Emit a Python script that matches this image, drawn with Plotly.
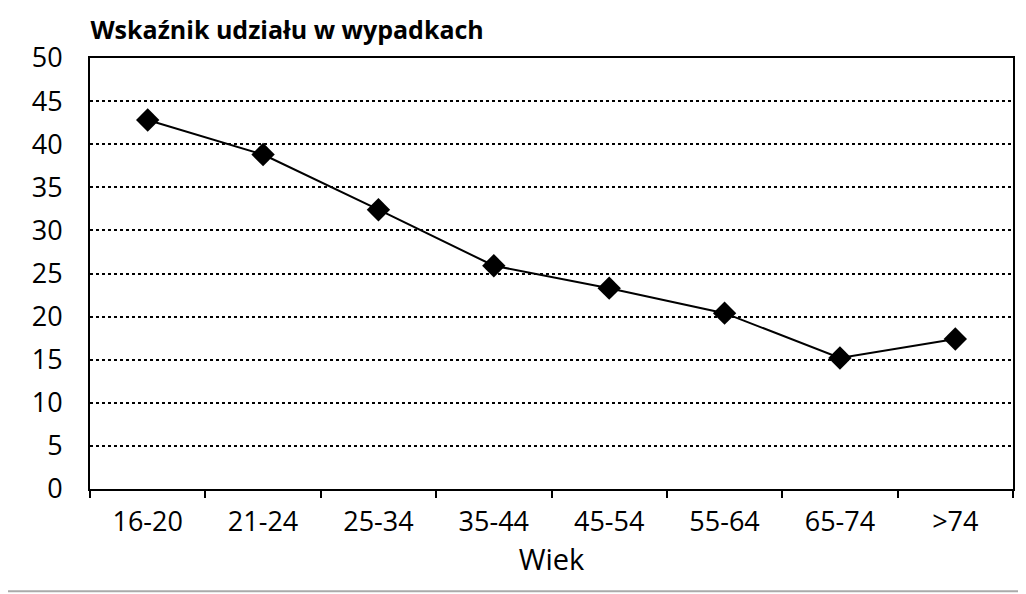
import plotly.graph_objects as go

# data
age_groups = ["16-20", "21-24", "25-34", "35-44", "45-54", "55-64", "65-74", ">74"]
share_index = [42.8, 38.8, 32.4, 25.9, 23.3, 20.4, 15.2, 17.4]
y_ticks = [0, 5, 10, 15, 20, 25, 30, 35, 40, 45, 50]

FONT = "Open Sans, Noto Sans, sans-serif"

fig = go.Figure(
    go.Scatter(
        x=age_groups,
        y=share_index,
        mode="lines+markers",
        line=dict(color="#000000", width=2),
        marker=dict(symbol="diamond", size=18, color="#000000"),
        hoverinfo="x+y",
    )
)

# page body adds an 8px offset, so the figure is sized to fit inside it
fig.update_layout(
    width=1018,
    height=586,
    margin=dict(l=82, r=13, t=50, b=105),
    paper_bgcolor="white",
    plot_bgcolor="white",
    showlegend=False,
    font=dict(family=FONT, color="#000000"),
    title=dict(
        text="<b>Wskaźnik udziału w wypadkach</b>",
        x=0.081, xanchor="left",
        y=0.962, yanchor="middle",
        font=dict(size=25, family=FONT, color="#000000"),
    ),
)

fig.update_xaxes(
    type="category",
    range=[-0.5, 7.5],
    tickson="boundaries",
    ticks="outside",
    ticklen=7,
    tickwidth=1.5,
    tickcolor="#000000",
    showline=True,
    linecolor="#000000",
    linewidth=2,
    mirror=True,
    showgrid=False,
    tickfont=dict(size=27, family=FONT),
    ticklabelstandoff=8,
    title=dict(text="Wiek", font=dict(size=29, family=FONT), standoff=6),
)

fig.update_yaxes(
    range=[0, 50],
    tickvals=y_ticks,
    ticks="",
    showline=True,
    linecolor="#000000",
    linewidth=2,
    mirror=True,
    showgrid=True,
    gridcolor="#000000",
    gridwidth=2,
    griddash="dot",
    zeroline=False,
    tickfont=dict(size=27, family=FONT),
    ticklabelstandoff=20,
)

# thin grey rule along the bottom of the image
fig.add_shape(
    type="line", xref="paper", yref="paper",
    x0=-0.1, x1=1.02, y0=-0.237, y1=-0.237,
    line=dict(color="#aaaaaa", width=2),
)

fig.write_html("out.html")
